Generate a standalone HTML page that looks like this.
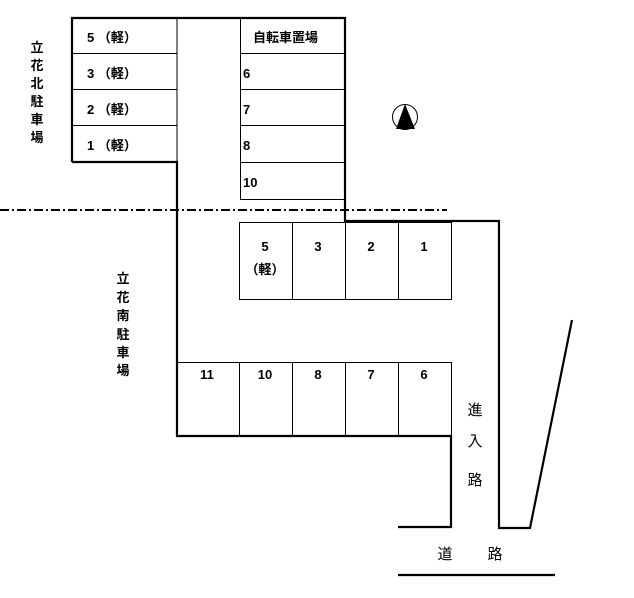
<!DOCTYPE html>
<html><head><meta charset="utf-8"><style>
html,body{margin:0;padding:0;background:#fff;}
svg{display:block;}
text{font-family:"Liberation Sans","Noto Sans CJK JP",sans-serif;fill:#000;}
.b{font-weight:bold;}
</style></head><body>
<svg width="634" height="598" viewBox="0 0 634 598" xmlns="http://www.w3.org/2000/svg">
<g stroke="#000" fill="none">
<g stroke-width="1">
<line x1="177" y1="18" x2="177" y2="162"/>
<line x1="72" y1="53.5" x2="177" y2="53.5"/>
<line x1="72" y1="89.5" x2="177" y2="89.5"/>
<line x1="72" y1="125.5" x2="177" y2="125.5"/>
<line x1="240.5" y1="18" x2="240.5" y2="199"/>
<line x1="240" y1="53.5" x2="345" y2="53.5"/>
<line x1="240" y1="89.5" x2="345" y2="89.5"/>
<line x1="240" y1="125.5" x2="345" y2="125.5"/>
<line x1="240" y1="162.5" x2="345" y2="162.5"/>
<line x1="240" y1="199.5" x2="345" y2="199.5"/>
<rect x="239.5" y="222.5" width="212" height="77"/>
<line x1="292.5" y1="222" x2="292.5" y2="300"/>
<line x1="345.5" y1="222" x2="345.5" y2="300"/>
<line x1="398.5" y1="222" x2="398.5" y2="300"/>
<line x1="177" y1="362.5" x2="452" y2="362.5"/>
<line x1="239.5" y1="363" x2="239.5" y2="436"/>
<line x1="292.5" y1="363" x2="292.5" y2="436"/>
<line x1="345.5" y1="363" x2="345.5" y2="436"/>
<line x1="398.5" y1="363" x2="398.5" y2="436"/>
<line x1="451.5" y1="363" x2="451.5" y2="436"/>
</g>
<g stroke-width="2.2">
<polyline points="72,162 72,18 345,18 345,221 499,221 499,528 530,528 572,320"/>
<polyline points="72,162 177,162 177,436 451,436 451,527 398,527"/>
<line x1="398" y1="575" x2="555" y2="575"/>
</g>
<line x1="0" y1="210" x2="447" y2="210" stroke-width="2" stroke-dasharray="9 3 2 3"/>
<circle cx="405" cy="117" r="12.5" stroke-width="1"/>
</g>
<polygon points="405,104 396,129 415,129" fill="#000"/>
<g font-size="13" class="b">
<text x="87" y="42">5 （軽）</text>
<text x="87" y="78">3 （軽）</text>
<text x="87" y="114">2 （軽）</text>
<text x="87" y="150">1 （軽）</text>
<text x="253" y="42">自転車置場</text>
<text x="243" y="78">6</text>
<text x="243" y="114">7</text>
<text x="243" y="150">8</text>
<text x="243" y="187">10</text>
<g text-anchor="middle">
<text x="265" y="251">5</text>
<text x="265" y="274">（軽）</text>
<text x="318" y="251">3</text>
<text x="371" y="251">2</text>
<text x="424" y="251">1</text>
<text x="207" y="379">11</text>
<text x="265" y="379">10</text>
<text x="318" y="379">8</text>
<text x="371" y="379">7</text>
<text x="424" y="379">6</text>
<text x="37" y="52">立</text><text x="37" y="70">花</text><text x="37" y="88">北</text><text x="37" y="106">駐</text><text x="37" y="124">車</text><text x="37" y="142">場</text>
<text x="123" y="283">立</text><text x="123" y="302">花</text><text x="123" y="320">南</text><text x="123" y="339">駐</text><text x="123" y="357">車</text><text x="123" y="375">場</text>
</g>
</g>
<g font-size="15" text-anchor="middle">
<text x="475" y="415">進</text><text x="475" y="446">入</text><text x="475" y="485">路</text>
<text x="445" y="559">道</text><text x="495" y="559">路</text>
</g>
</svg>
</body></html>
